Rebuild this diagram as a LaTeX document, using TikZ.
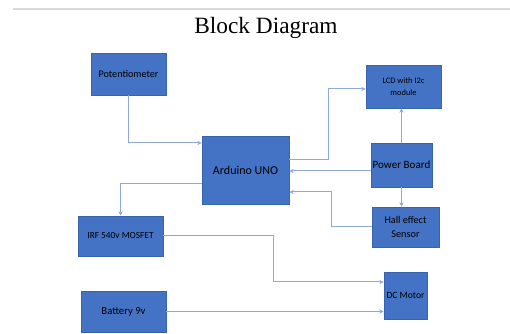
\documentclass[tikz,border=0pt]{standalone}
\usepackage{fontspec}
\setmainfont{Liberation Serif}
\newfontfamily\boxfont{Carlito}
\usetikzlibrary{arrows.meta}
\definecolor{boxblue}{HTML}{4472C4}
\definecolor{boxedge}{HTML}{3A63AE}
\definecolor{linkblue}{HTML}{8EAADB}
\definecolor{rulegray}{HTML}{D9D9D9}
\tikzset{
  blk/.style={draw=boxedge, line width=0.6pt, fill=boxblue, inner sep=0pt, align=center, font=\boxfont, text=black},
  conn/.style={draw=linkblue, line width=0.75pt, -{Stealth[length=3.2pt,width=3.2pt]}},
}
\begin{document}
\begin{tikzpicture}[x=0.75pt,y=-0.75pt]
\useasboundingbox (0,0) rectangle (510,334);
\draw[rulegray, line width=1.6pt] (13,9) -- (510,9);
\node[font=\fontsize{17.5}{20}\selectfont] (title) at (266,28) {Block Diagram};

\node[blk, minimum width=56.25pt, minimum height=31.5pt, font=\boxfont\fontsize{7.6}{9}\selectfont] (pot) at (128.5,74) {Potentiometer};
\node[blk, minimum width=56.25pt, minimum height=32.25pt, font=\boxfont\fontsize{6.3}{8.5}\selectfont] (lcd) at (403.5,86.5) {LCD with I2c\\module};
\node[blk, minimum width=65.25pt, minimum height=51pt, font=\boxfont\fontsize{9}{11}\selectfont] (ard) at (245.5,170) {Arduino UNO};
\node[blk, minimum width=45.75pt, minimum height=33pt, font=\boxfont\fontsize{8.3}{10}\selectfont] (pwr) at (401.5,165) {Power Board};
\node[blk, minimum width=50.25pt, minimum height=30pt, font=\boxfont\fontsize{7.7}{10}\selectfont] (hall) at (405.5,227) {Hall effect\\Sensor};
\node[blk, minimum width=63.75pt, minimum height=30pt, font=\boxfont\fontsize{7}{9}\selectfont] (mos) at (120.5,236) {IRF 540v MOSFET};
\node[blk, minimum width=32.25pt, minimum height=35.25pt, font=\boxfont\fontsize{7.2}{9}\selectfont] (dc) at (405.5,295.5) {DC Motor};
\node[blk, minimum width=63.75pt, minimum height=30.75pt, font=\boxfont\fontsize{8}{10}\selectfont] (bat) at (123.5,311.5) {Battery 9v};

\coordinate (y143) at (0,143);
\coordinate (y160) at (0,160);
\coordinate (k1) at (328,89);
\coordinate (y171) at (0,171);
\coordinate (h1) at (331,192);
\coordinate (m1) at (121,184);
\coordinate (d1) at (273,282);

\draw[conn] (pot.south) |- (ard.west |- y143);
\draw[conn] (ard.east |- y160) -| (k1) -- (k1 -| lcd.west);
\draw[conn] (pwr.west |- y171) -- (ard.east |- y171);
\draw[conn] (pwr.north) -- (pwr.north |- lcd.south);
\draw[conn] (pwr.south) -- (pwr.south |- hall.north);
\draw[conn] (hall.west) -| (h1) -- (h1 -| ard.east);
\draw[conn] (ard.west |- m1) -| (mos.north);
\draw[conn] (mos.east) -| (d1) -- (d1 -| dc.west);
\draw[conn] (bat.east) -- (bat.east -| dc.west);
\end{tikzpicture}
\end{document}
